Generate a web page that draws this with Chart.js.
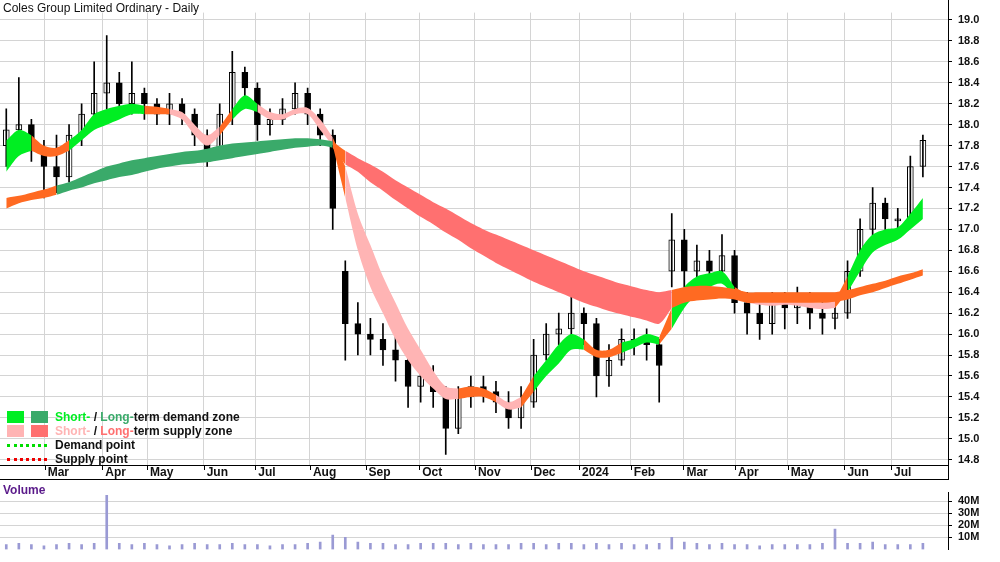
<!DOCTYPE html>
<html>
<head>
<meta charset="UTF-8">
<title>Coles Group Limited Ordinary - Daily</title>
<script src="https://cdn.jsdelivr.net/npm/chart.js"></script>
<style>
    body { margin: 0; background: #fff; font-family: "Liberation Sans", Arial, sans-serif; }
    #wrap { position: relative; width: 1000px; height: 562px; overflow: hidden; }
    canvas { position: absolute; left: 0; }
    #title { position: absolute; left: 3px; top: 1px; font-size: 12px; color: #111; }
    #volTitle { position: absolute; left: 3px; top: 483px; font-size: 12px; font-weight: bold; color: #5a1a8a; }
    #legend { position: absolute; left: 7px; top: 410px; font-size: 12px; font-weight: bold; color: #111; line-height: 14px; }
    .row { height: 14px; position: relative; padding-left: 48px; white-space: nowrap; }
    .sw { position: absolute; top: 1px; width: 17px; height: 12px; }
    .dot { position: absolute; top: 6px; left: 0; width: 40px; border-top: 3px dotted; }
</style>
</head>
<body>
<div id="wrap">
    <canvas id="priceChart" width="1000" height="480" style="top:0"></canvas>
    <canvas id="volChart" width="1000" height="82" style="top:480px"></canvas>
    <div id="title">Coles Group Limited Ordinary - Daily</div>
    <div id="volTitle">Volume</div>
    <div id="legend">
        <div class="row"><span class="sw" style="left:0;background:#00ee22"></span><span class="sw" style="left:24px;background:#3aaa6a"></span><span style="color:#00ee22">Short-</span> / <span style="color:#3aaa6a">Long-</span>term demand zone</div>
        <div class="row"><span class="sw" style="left:0;background:#ffb4b4"></span><span class="sw" style="left:24px;background:#ff7070"></span><span style="color:#ffb4b4">Short-</span> / <span style="color:#ff7070">Long-</span>term supply zone</div>
        <div class="row"><span class="dot" style="border-color:#00dd00"></span>Demand point</div>
        <div class="row"><span class="dot" style="border-color:#ee0000"></span>Supply point</div>
    </div>
</div>
<script>
// weekly candles, index 0 = mid Feb 2023
var closes = [17.95,18.0,17.75,17.6,17.5,17.9,18.1,18.3,18.4,18.2,18.3,18.2,18.1,18.2,18.1,17.9,17.75,18.1,18.5,18.35,
    18.0,18.05,18.15,18.3,18.1,17.9,17.2,16.1,16.0,15.95,15.85,15.75,15.5,15.6,15.45,15.1,15.4,15.5,15.45,15.35,
    15.2,15.35,15.8,16.0,16.05,16.2,16.1,15.6,15.75,15.95,15.95,15.9,15.7,16.9,16.6,16.7,16.6,16.75,16.3,16.2,
    16.1,16.3,16.25,16.3,16.2,16.15,16.2,16.6,17.0,17.25,17.1,17.1,17.6,17.85];
var opens = [17.8,17.95,18.0,17.75,17.6,17.5,17.9,18.1,18.3,18.4,18.2,18.3,18.2,18.1,18.2,18.1,17.9,17.75,18.1,18.5,
    18.35,18.0,18.05,18.15,18.3,18.1,17.9,16.6,16.1,16.0,15.95,15.85,15.75,15.5,15.6,15.45,15.1,15.4,15.5,15.45,
    15.35,15.2,15.35,15.8,16.0,16.05,16.2,16.1,15.6,15.75,15.95,15.95,15.9,16.6,16.9,16.6,16.7,16.6,16.75,16.3,
    16.2,16.1,16.3,16.25,16.3,16.2,16.15,16.2,16.6,17.0,17.25,17.1,17.1,17.6];
var highs = [18.15,18.45,18.05,17.85,17.9,18.0,18.2,18.6,18.85,18.5,18.6,18.35,18.25,18.3,18.25,18.15,17.95,18.2,18.7,18.55,
    18.4,18.15,18.25,18.4,18.35,18.15,17.95,16.7,16.3,16.15,16.1,16.0,15.85,15.75,15.7,15.5,15.5,15.6,15.6,15.55,
    15.45,15.5,15.95,16.1,16.2,16.35,16.25,16.15,15.9,16.05,16.05,16.05,15.95,17.15,17.0,16.85,16.8,16.95,16.8,16.4,
    16.35,16.4,16.4,16.45,16.4,16.3,16.3,16.7,17.1,17.4,17.3,17.2,17.7,17.9];
var lows = [17.6,17.8,17.65,17.3,17.35,17.45,17.8,18.0,18.15,18.1,18.1,18.05,18.0,18.0,18.0,17.8,17.6,17.7,18.0,18.2,
    17.85,17.9,18.0,18.1,18.0,17.8,17.0,15.75,15.8,15.8,15.7,15.55,15.3,15.35,15.3,14.85,15.05,15.3,15.35,15.25,
    15.1,15.1,15.3,15.75,15.9,15.95,15.9,15.4,15.5,15.7,15.8,15.75,15.35,16.45,16.45,16.45,16.4,16.5,16.2,16.0,
    15.95,16.0,16.05,16.1,16.05,16.0,16.05,16.15,16.55,16.9,17.0,16.95,17.1,17.5];
var volumes = [4,5,4,3,4,5,4,5,45,5,4,5,4,3,4,5,4,4,5,4,
    4,3,4,4,5,6,12,10,6,5,5,4,4,5,5,5,4,5,4,4,
    4,5,5,4,5,5,4,5,4,5,4,4,5,10,6,5,4,5,4,4,
    3,4,4,4,4,5,17,5,5,6,4,4,4,5];

// zone bands: lower / upper edge and state per week (G demand, P/R supply, O neutral)
var shortLo = [17.55,17.7,17.75,17.7,17.7,17.75,17.85,17.95,18.0,18.05,18.1,18.1,18.1,18.1,18.05,17.9,17.8,17.9,18.05,18.15,
    18.12,18.05,18.05,18.1,18.1,17.95,17.8,17.3,16.8,16.45,16.2,15.95,15.75,15.6,15.48,15.38,15.38,15.4,15.4,15.35,
    15.28,15.3,15.45,15.6,15.72,15.85,15.85,15.78,15.78,15.82,15.87,15.92,15.9,16.05,16.25,16.38,16.45,16.48,16.35,16.3,
    16.28,16.27,16.28,16.27,16.25,16.24,16.25,16.4,16.6,16.78,16.85,16.9,17.0,17.1];
var shortHi = [17.85,17.95,17.9,17.8,17.78,17.85,17.95,18.1,18.15,18.18,18.2,18.18,18.17,18.15,18.12,18.0,17.9,17.98,18.15,18.28,
    18.2,18.12,18.1,18.15,18.16,18.05,17.88,17.6,17.15,16.85,16.55,16.3,16.05,15.85,15.65,15.5,15.48,15.5,15.48,15.42,
    15.35,15.4,15.6,15.75,15.9,16.0,15.95,15.85,15.85,15.92,15.95,16.0,15.97,16.25,16.45,16.55,16.58,16.6,16.45,16.38,
    16.34,16.33,16.34,16.33,16.31,16.3,16.32,16.55,16.8,16.95,17.0,17.02,17.15,17.3];
var shortState = "GGOOOGGGGGGOOPPPPOGGPPPPPPOPPPPPPPPPOOOPPOGGGGOOOGGGOGGGGGOPPPPPPPOGGGGGGG";
var longLo = [17.2,17.25,17.28,17.3,17.33,17.37,17.4,17.44,17.47,17.5,17.52,17.55,17.58,17.6,17.62,17.63,17.64,17.66,17.68,17.7,
    17.72,17.74,17.76,17.78,17.79,17.8,17.78,17.62,17.55,17.45,17.37,17.28,17.2,17.12,17.05,16.97,16.9,16.82,16.75,16.68,
    16.62,16.56,16.5,16.45,16.4,16.35,16.3,16.26,16.22,16.19,16.16,16.13,16.1,16.25,16.3,16.32,16.33,16.34,16.33,16.3,
    16.3,16.3,16.3,16.3,16.3,16.3,16.31,16.33,16.37,16.4,16.44,16.48,16.52,16.56];
var longHi = [17.3,17.32,17.35,17.38,17.42,17.45,17.5,17.55,17.6,17.63,17.66,17.68,17.7,17.72,17.74,17.75,17.77,17.8,17.82,17.83,
    17.84,17.85,17.86,17.87,17.87,17.86,17.84,17.75,17.68,17.62,17.55,17.47,17.4,17.33,17.26,17.2,17.13,17.06,17.0,16.95,
    16.9,16.85,16.8,16.75,16.7,16.65,16.6,16.56,16.52,16.48,16.45,16.42,16.4,16.42,16.45,16.46,16.46,16.45,16.43,16.4,
    16.4,16.4,16.4,16.4,16.4,16.4,16.4,16.42,16.45,16.48,16.51,16.55,16.58,16.62];
var longState = "OOOOGGGGGGGGGGGGGGGGGGGGGGORRRRRRRRRRRRRRRRRRRRRRRRRROOOOOOOOOOOOOOOOOOOOO";

var monthTicks = [3.06,7.65,11.21,15.72,19.83,24.18,28.61,32.89,37.32,41.75,45.62,49.74,53.93,58.04,62.24,66.75,70.47];
var monthLabels = ["Mar","Apr","May","Jun","Jul","Aug","Sep","Oct","Nov","Dec","2024","Feb","Mar","Apr","May","Jun","Jul"];
var priceTicks = [14.8,15.0,15.2,15.4,15.6,15.8,16.0,16.2,16.4,16.6,16.8,17.0,17.2,17.4,17.6,17.8,18.0,18.2,18.4,18.6,18.8,19.0];
var volTicks = [10,20,30,40];

var shortColors = { G: "#00ee22", P: "#ffb4b4", O: "#ff6a22" };
var longColors = { G: "#3aaa6a", R: "#ff7070", O: "#ff6a22" };
var X_MAX = 75;

// split a band into runs of the same state, each run = lower line + filled upper line
function bandDatasets(lo, hi, state, colors) {
    var sets = [];
    var start = 0;
    for (var i = 1; i <= lo.length; i++) {
        if (i == lo.length || state[i] != state[start]) {
            var end = Math.min(i, lo.length - 1);
            var l = [], h = [];
            for (var k = start; k <= end; k++) {
                l.push({ x: k, y: lo[k] });
                h.push({ x: k, y: hi[k] });
            }
            var c = colors[state[start]];
            sets.push({ type: "line", data: l, borderWidth: 0, pointRadius: 0, fill: false, tension: 0.3 });
            sets.push({ type: "line", data: h, borderWidth: 0, pointRadius: 0, fill: "-1", backgroundColor: c, tension: 0.3 });
            start = i;
        }
    }
    return sets;
}

var wicks = closes.map(function (c, i) { return { x: i, y: [lows[i], highs[i]] }; });
var bodies = closes.map(function (c, i) {
    var o = opens[i];
    if (Math.abs(o - c) < 0.02) o = c - 0.02;
    return { x: i, y: [o, c] };
});

var datasets = [].concat(
    bandDatasets(longLo, longHi, longState, longColors),
    bandDatasets(shortLo, shortHi, shortState, shortColors),
    [{
        type: "bar", data: wicks, backgroundColor: "#000", barThickness: 1, grouped: false
    }, {
        type: "bar", data: bodies, barThickness: 6, grouped: false, borderWidth: 1, borderColor: "#000", borderSkipped: false,
        backgroundColor: function (ctx) { return closes[ctx.dataIndex] >= opens[ctx.dataIndex] ? "#fff" : "#000"; }
    }]
);

var monthAxisPlugin = {
    id: "monthAxis",
    afterDraw: function (chart) {
        var ctx = chart.ctx, a = chart.chartArea, xs = chart.scales.x;
        ctx.save();
        ctx.strokeStyle = "#000";
        ctx.lineWidth = 1;
        ctx.beginPath();
        ctx.moveTo(0, a.bottom + 0.5); ctx.lineTo(a.right, a.bottom + 0.5);
        ctx.moveTo(0, 479.5); ctx.lineTo(a.right, 479.5);
        ctx.moveTo(a.right + 0.5, 0); ctx.lineTo(a.right + 0.5, 480);
        monthTicks.forEach(function (t) {
            var px = Math.round(xs.getPixelForValue(t)) + 0.5;
            ctx.moveTo(px, a.bottom); ctx.lineTo(px, a.bottom + 5);
        });
        ctx.stroke();
        ctx.fillStyle = "#111";
        ctx.font = "bold 12px 'Liberation Sans', Arial";
        ctx.textBaseline = "middle";
        monthTicks.forEach(function (t, i) {
            ctx.fillText(monthLabels[i], xs.getPixelForValue(t) + 3, a.bottom + 8);
        });
        ctx.restore();
    }
};

new Chart(document.getElementById("priceChart"), {
    type: "bar",
    data: { datasets: datasets },
    options: {
        responsive: false, animation: false,
        layout: { padding: 0 },
        plugins: { legend: { display: false }, tooltip: { enabled: false } },
        scales: {
            x: {
                type: "linear", min: -0.5, max: X_MAX, offset: false,
                afterBuildTicks: function (s) { s.ticks = monthTicks.map(function (v) { return { value: v }; }); },
                afterFit: function (s) { s.height = 15; },
                ticks: { display: false },
                border: { display: false },
                grid: { color: "#d4d4d4", borderDash: [1, 2], drawTicks: false, offset: false }
            },
            y: {
                position: "right", min: 14.75, max: 19.07,
                afterBuildTicks: function (s) { s.ticks = priceTicks.map(function (v) { return { value: v }; }); },
                afterFit: function (s) { s.width = 52; },
                ticks: { callback: function (v) { return v.toFixed(1); }, color: "#111", font: { size: 11, weight: "bold", family: "'Liberation Sans', Arial" }, padding: 6 },
                border: { display: false },
                grid: { color: "#d4d4d4", borderDash: [1, 2], drawTicks: true, tickLength: 4, tickColor: "#000" }
            }
        }
    },
    plugins: [monthAxisPlugin]
});

new Chart(document.getElementById("volChart"), {
    type: "bar",
    data: { datasets: [{ data: volumes.map(function (v, i) { return { x: i, y: v }; }), backgroundColor: "#9a9ad4", barThickness: 2 }] },
    options: {
        responsive: false, animation: false,
        layout: { padding: 0 },
        plugins: { legend: { display: false }, tooltip: { enabled: false } },
        scales: {
            x: { type: "linear", min: -0.5, max: X_MAX, offset: false, display: false },
            y: {
                position: "right", min: 0, max: 47.3,
                afterBuildTicks: function (s) { s.ticks = volTicks.map(function (v) { return { value: v }; }); },
                afterFit: function (s) { s.width = 52; },
                ticks: { callback: function (v) { return v + "M"; }, color: "#111", font: { size: 11, weight: "bold", family: "'Liberation Sans', Arial" }, padding: 6 },
                border: { color: "#000" },
                grid: { color: "#d4d4d4", borderDash: [1, 2], tickLength: 4, tickColor: "#000" }
            }
        }
    }
});
</script>
</body>
</html>
